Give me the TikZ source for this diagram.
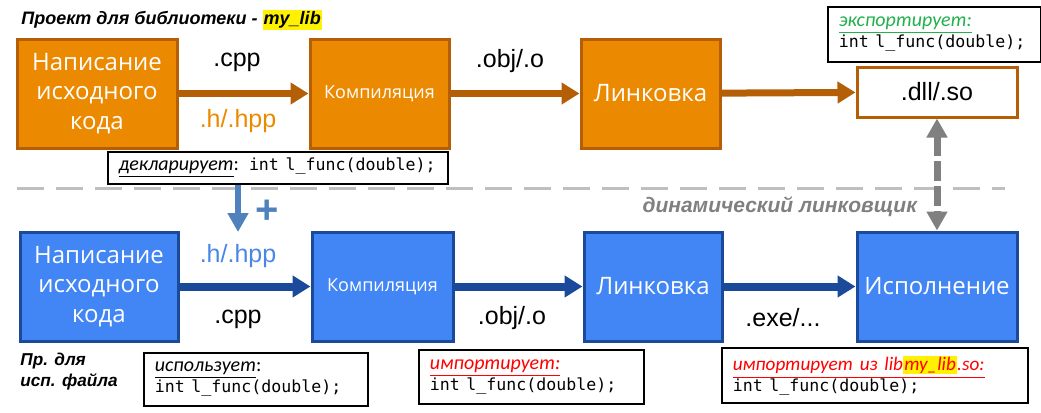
\documentclass[tikz,border=0pt]{standalone}
\usepackage{fontspec}
\setmainfont{Liberation Sans}
\newfontfamily\boxfont{Open Sans}
\newfontfamily\codefont{DejaVu Sans Mono}
\newfontfamily\notefont{Carlito}
\usetikzlibrary{arrows.meta}

\definecolor{orfill}{HTML}{EB8A00}
\definecolor{orline}{HTML}{B45F06}
\definecolor{blfill}{HTML}{4285F4}
\definecolor{blline}{HTML}{1C4A9A}
\definecolor{hdrblue}{HTML}{4F81BD}
\definecolor{txtblue}{HTML}{4A86E8}
\definecolor{expgreen}{HTML}{22B14C}
\definecolor{sepgray}{HTML}{BFBFBF}

\newcommand{\hilite}[1]{{\setlength{\fboxsep}{0.6pt}\colorbox{yellow}{#1}}}
\newcommand{\code}{\codefont\fontsize{8.3}{10.5}\selectfont}

\begin{document}
\begin{tikzpicture}[x=0.5pt, y=-0.5pt,
    box/.style={line width=1.5pt, text=white, align=center, inner sep=0pt,
      minimum height=54.5pt, font=\boxfont\fontsize{12}{14.75}\selectfont},
    small/.style={font=\boxfont\fontsize{9}{11}\selectfont},
    libbox/.style={box, draw=orline, fill=orfill},
    usebox/.style={box, draw=blline, fill=blfill},
    note/.style={draw=black, line width=0.8pt, fill=white, align=left,
      anchor=north west, inner xsep=5.5pt, inner ysep=0pt,
      font=\notefont\fontsize{10}{10.5}\selectfont},
    ext/.style={font=\fontsize{12.5}{14}\selectfont},
    flow/.style={line width=3.5pt, -{Triangle[length=9pt,width=10.5pt]}}]
  \useasboundingbox (0,0) rectangle (1041,413);

  % library project
  \node[anchor=west, inner sep=0pt, font=\bfseries\itshape\fontsize{9}{11}\selectfont] (title) at (21,20)
    {Проект для библиотеки - \hilite{my\_lib}};

  \node[libbox, minimum width=80pt] (src1) at (97,93.5) {Написание\\исходного\\кода};
  \node[libbox, small, minimum width=69.5pt] (cmp1) at (379.5,93.5) {Компиляция};
  \node[libbox, minimum width=69.5pt] (lnk1) at (650.5,93.5) {Линковка};
  \node[draw=orline, fill=white, line width=1.5pt, minimum width=80pt,
    minimum height=25pt, ext] (dll) at (937,92) {.dll/.so};

  \node[ext] (cpp1) at (237,62) {.cpp};
  \node[ext, text=orfill] (hpp1) at (238,121) {.h/.hpp};
  \node[ext] (obj1) at (510,61) {.obj/.o};

  \draw[flow, orline] (src1) -- (cmp1);
  \draw[flow, orline] (cmp1) -- (lnk1);
  \draw[flow, orline] (lnk1) -- (dll);

  \node[note, text width=95.5pt, minimum width=106.5pt, minimum height=27.5pt] (exp) at (827,6)
    {{\color{expgreen}\underline{\textit{экспортирует:}}}\\{\code int l\_func(double);}};
  \node[note, text width=159pt, minimum width=170pt, minimum height=16pt] (decl) at (107,151)
    {\underline{\textit{декларирует}}: {\code int l\_func(double);}};

  \draw[sepgray, line width=1.5pt, dash pattern=on 13.5pt off 6pt] (17,188) -- (1005,188);

  \coordinate (hdrend) at (238,232);
  \draw[hdrblue, line width=3pt, -{Triangle[length=9.5pt,width=10pt]}] (decl.south -| hdrend) -- (hdrend);
  \node[text=hdrblue, font=\bfseries\fontsize{20}{20}\selectfont] (plus) at (267,212) {+};

  \node[anchor=east, text=gray, font=\bfseries\itshape\fontsize{10.5}{12}\selectfont] (dynl) at (924,207)
    {динамический линковщик};

  % executable project
  \node[usebox, minimum width=79pt] (src2) at (99,286.5) {Написание\\исходного\\кода};
  \node[usebox, small, minimum width=70.5pt] (cmp2) at (382.5,286.5) {Компиляция};
  \node[usebox, minimum width=69pt] (lnk2) at (653,286.5) {Линковка};
  \node[usebox, minimum width=80pt] (run) at (937,286.5) {Исполнение};

  \node[ext, text=txtblue] (hpp2) at (238,256) {.h/.hpp};
  \node[ext] (cpp2) at (238,319) {.cpp};
  \node[ext] (obj2) at (512,318) {.obj/.o};
  \node[ext] (exe) at (783,318) {.exe/...};

  \draw[flow, blline, line width=4pt] (src2) -- (cmp2);
  \draw[flow, blline, line width=4pt] (cmp2) -- (lnk2);
  \draw[flow, blline, line width=4pt] (lnk2) -- (run);

  \draw[gray, line width=3.5pt, dash pattern=on 10pt off 2.5pt,
    {Triangle[length=9.5pt,width=10pt]}-{Triangle[length=9.5pt,width=10pt]}] (dll) -- (run);

  \node[anchor=west, inner sep=0pt, align=left, font=\bfseries\itshape\fontsize{8.6}{10.5}\selectfont] (usr) at (20,372)
    {Пр. для\\исп. файла};
  \node[note, text width=101pt, minimum width=112pt, minimum height=26.5pt] (uses) at (143,352)
    {\underline{\textit{использует}}:\\{\code int l\_func(double);}};
  \node[note, text width=101.5pt, minimum width=112.5pt, minimum height=27pt] (imp) at (418,349)
    {{\color{red}\underline{\textit{импортирует:}}}\\{\code int l\_func(double);}};
  \node[note, text width=142pt, minimum width=153pt, minimum height=27.5pt] (impso) at (721,347)
    {{\color{red}\itshape\fontsize{9.6}{10.5}\selectfont\underline{импортирует из lib\hilite{my\_lib}.so:}}\\{\code int l\_func(double);}};
\end{tikzpicture}
\end{document}
